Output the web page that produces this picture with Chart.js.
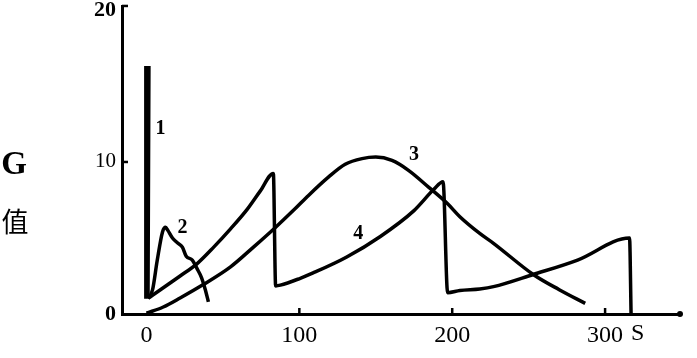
<!DOCTYPE html>
<html>
<head>
<meta charset="utf-8">
<script src="https://cdn.jsdelivr.net/npm/chart.js@4"></script>
<style>
html,body{margin:0;padding:0;background:#fff;}
canvas{display:block;}
</style>
</head>
<body>
<canvas id="c" width="697" height="358"></canvas>
<script>
// ---- data (time in s, G value) ----
const curve1T = [-0.4, -0.4, 1.6, 1.0];
const curve1G = [1.0, 16.2, 16.2, 1.1];

const curve2T = [1, 4, 7, 10.5, 12.5, 14, 17, 20, 23.5, 26, 30, 33, 36, 38.5, 40.5];
const curve2G = [1.0, 1.6, 3.5, 5.4, 5.7, 5.5, 5.0, 4.7, 4.4, 3.8, 3.55, 3.0, 2.4, 1.6, 0.8];

const curve3T = [0, 11, 22, 36.6, 55, 70, 84, 97, 106, 119, 130, 141, 150, 160.6, 171.4, 184.5, 197, 205, 218, 227, 253, 270, 287];
const curve3G = [0.05, 0.46, 1.05, 1.9, 3.1, 4.4, 5.66, 6.9, 7.8, 9.0, 9.85, 10.22, 10.32, 10.1, 9.45, 8.35, 7.25, 6.4, 5.3, 4.65, 2.6, 1.6, 0.7];

const curve4T = [1.3, 22, 33, 44, 55, 66, 74.5, 83, 84.5, 87.6, 100.6, 109, 131, 153, 175, 188, 194, 197, 205, 218, 227, 253, 282, 316, 317];
const curve4G = [1.05, 2.5, 3.3, 4.4, 5.6, 6.9, 8.1, 9.25, 1.85, 1.9, 2.35, 2.7, 3.75, 5.1, 6.8, 8.2, 8.7, 1.4, 1.55, 1.65, 1.8, 2.6, 3.55, 5.0, 0.0];

const xTicks = [0, 100, 200, 300];
const xTickLabels = ['0', '100', '200', '300'];
const xUnit = 'S';
const yTicks = [0, 10, 20];
const yTickLabels = ['0', '10', '20'];

const curveNames = ['1', '2', '3', '4'];
const curveNameT = [9.2, 23.5, 175, 138.6];
const curveNameG = [12.2, 5.66, 10.5, 5.3];

const yTitle1 = 'G';
const yTitle2 = '值';

function pts(t, g){ return t.map((v,i)=>({x:v, y:g[i]})); }

const lineStyle = {borderColor:'#000', borderWidth:3.5, pointRadius:0, fill:false};

function noPad(s){ s.paddingTop = 0; s.paddingBottom = 0; s.paddingLeft = 0; s.paddingRight = 0; }

const extras = {
  id:'extras',
  afterDraw(chart){
    const ctx = chart.ctx, xs = chart.scales.x, ys = chart.scales.y, a = chart.chartArea;
    ctx.save();
    ctx.strokeStyle = '#000'; ctx.fillStyle = '#000'; ctx.lineWidth = 2.5;
    // inward ticks on x axis
    [100,200,300].forEach(v=>{
      const px = xs.getPixelForValue(v);
      ctx.beginPath(); ctx.moveTo(px, a.bottom); ctx.lineTo(px, a.bottom-6); ctx.stroke();
    });
    // inward ticks on y axis
    [10,20].forEach(v=>{
      const py = ys.getPixelForValue(v) - (v===20?4:0);
      ctx.beginPath(); ctx.moveTo(a.left, py); ctx.lineTo(a.left+6, py); ctx.stroke();
    });
    // end dot on x axis
    ctx.beginPath(); ctx.arc(a.right, a.bottom, 3, 0, Math.PI*2); ctx.fill();
    // unit S
    ctx.font = '24px "Liberation Serif"';
    ctx.textAlign = 'left'; ctx.textBaseline = 'top';
    ctx.fillText(xUnit, xs.getPixelForValue(300)+26, a.bottom+8);
    // curve names
    ctx.font = 'bold 20px "Liberation Serif"';
    ctx.textAlign = 'center'; ctx.textBaseline = 'middle';
    curveNames.forEach((n,i)=>{
      ctx.fillText(n, xs.getPixelForValue(curveNameT[i]), ys.getPixelForValue(curveNameG[i]));
    });
    // y title
    ctx.font = 'bold 33px "Liberation Serif"';
    ctx.fillText(yTitle1, 14, 165);
    ctx.font = '27px "Noto Sans CJK SC"';
    ctx.fillText(yTitle2, 15, 222);
    ctx.restore();
  }
};

new Chart(document.getElementById('c'), {
  type:'line',
  data:{
    datasets:[
      Object.assign({label:'1', data:pts(curve1T, curve1G), tension:0}, lineStyle),
      Object.assign({label:'2', data:pts(curve2T, curve2G), cubicInterpolationMode:'monotone'}, lineStyle),
      Object.assign({label:'3', data:pts(curve3T, curve3G), cubicInterpolationMode:'monotone'}, lineStyle),
      Object.assign({label:'4', data:pts(curve4T, curve4G), cubicInterpolationMode:'monotone'}, lineStyle)
    ]
  },
  options:{
    responsive:false,
    animation:false,
    devicePixelRatio:1,
    layout:{padding:{top:6, right:17, left:0, bottom:0}},
    plugins:{legend:{display:false}, tooltip:{enabled:false}},
    scales:{
      x:{
        type:'linear', min:-16, max:349,
        grid:{display:false, drawTicks:false},
        border:{display:true, color:'#000', width:3},
        afterBuildTicks(s){ s.ticks = xTicks.map(v=>({value:v})); },
        afterFit(s){ s.height = 44; noPad(s); },
        ticks:{
          color:'#000', padding:7, maxRotation:0, autoSkip:false,
          font:{family:'"Liberation Serif"', size:24},
          callback:(v)=>{ const i = xTicks.indexOf(v); return i>=0 ? xTickLabels[i] : ''; }
        }
      },
      y:{
        type:'linear', min:0, max:20.26,
        grid:{display:false, drawTicks:false},
        border:{display:true, color:'#000', width:3},
        afterBuildTicks(s){ s.ticks = yTicks.map(v=>({value:v})); },
        afterFit(s){ s.width = 122; noPad(s); },
        ticks:{
          color:'#000', padding:6, autoSkip:false,
          font:(c)=>{ const v = c.tick ? c.tick.value : 10; return {family:'"Liberation Serif"', size: v===10?21:22, weight: v===10?'normal':'bold'}; },
          callback:(v)=>{ const i = yTicks.indexOf(v); return i>=0 ? yTickLabels[i] : ''; }
        }
      }
    }
  },
  plugins:[extras]
});
</script>
</body>
</html>
